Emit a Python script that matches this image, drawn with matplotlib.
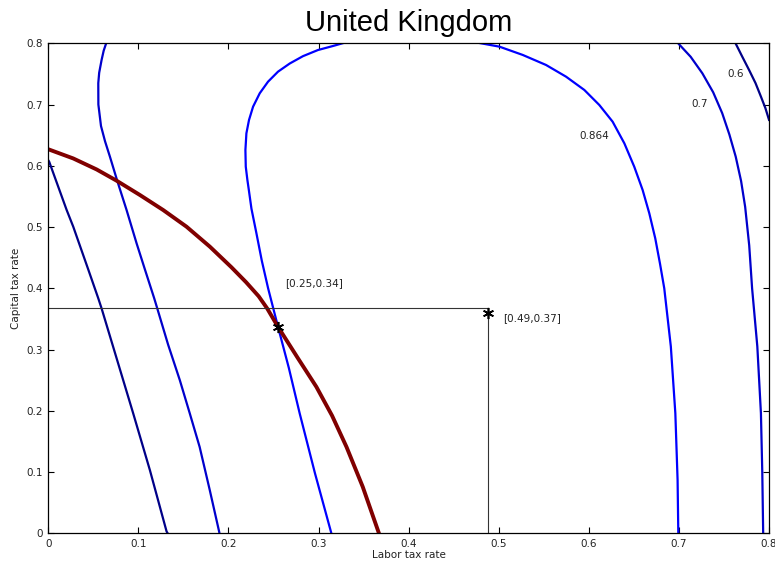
import numpy as np
import matplotlib.pyplot as plt

plt.rcParams['font.family'] = ['DejaVu Sans']

# contour level 0.6 (left branch and top-right corner)
c06_x = [0.0, 0.001, 0.0204, 0.0277, 0.0443, 0.0554, 0.0592, 0.0942, 0.1128,
         0.1313, 0.1325]
c06_y = [0.609, 0.6067, 0.5278, 0.5006, 0.431, 0.384, 0.367, 0.196, 0.103,
         0.003, 0.0]
c06b_x = [0.7625, 0.770, 0.778, 0.785, 0.791, 0.796, 0.800]
c06b_y = [0.801, 0.779, 0.756, 0.735, 0.713, 0.694, 0.675]

# contour level 0.7
c07_x = [0.0647, 0.0615, 0.0592, 0.0565, 0.0555, 0.0556, 0.0585, 0.0630,
         0.0684, 0.0765, 0.0869, 0.098, 0.1072, 0.1175, 0.121, 0.133, 0.146,
         0.157, 0.168, 0.179, 0.1896, 0.190]
c07_y = [0.802, 0.788, 0.773, 0.752, 0.735, 0.70, 0.665, 0.640, 0.615,
         0.5757, 0.5278, 0.4735, 0.431, 0.384, 0.367, 0.308, 0.250, 0.196,
         0.141, 0.072, 0.003, 0.0]
c07b_x = [0.6985, 0.713, 0.726, 0.738, 0.748, 0.756, 0.763, 0.769, 0.7735,
          0.778, 0.7812, 0.787, 0.791, 0.7925, 0.7935]
c07b_y = [0.801, 0.778, 0.751, 0.72, 0.686, 0.651, 0.615, 0.575, 0.533,
          0.47, 0.400, 0.305, 0.196, 0.10, 0.0]

# contour level 0.864
c086_x = [0.3142, 0.296, 0.279, 0.267, 0.255, 0.244, 0.237, 0.231, 0.2255,
          0.2225, 0.221, 0.2192, 0.2188, 0.2199, 0.2228, 0.2273, 0.2347,
          0.2439, 0.255, 0.268, 0.2827, 0.2993, 0.316, 0.3289]
c086_y = [0.0, 0.098, 0.196, 0.27, 0.337, 0.400, 0.445, 0.490, 0.530,
          0.5616, 0.5768, 0.5985, 0.6258, 0.653, 0.6748, 0.6965, 0.7184,
          0.7373, 0.7537, 0.767, 0.779, 0.789, 0.7956, 0.801]
c086b_x = [0.4767, 0.5008, 0.5266, 0.5525, 0.5747, 0.595, 0.6116, 0.6264,
           0.6394, 0.6504, 0.6597, 0.6671, 0.6737, 0.6790, 0.6837, 0.691,
           0.696, 0.6985, 0.6993]
c086b_y = [0.801, 0.7945, 0.781, 0.7646, 0.7455, 0.7238, 0.6993, 0.672,
           0.6367, 0.5985, 0.5605, 0.5224, 0.4816, 0.44, 0.400, 0.305,
           0.196, 0.087, 0.0]

# constraint curve
red_x = [0.0, 0.0277, 0.0537, 0.0758, 0.1017, 0.1275, 0.1534, 0.1793,
         0.2033, 0.2195, 0.2335, 0.243, 0.255, 0.277, 0.2976, 0.315, 0.331,
         0.349, 0.367]
red_y = [0.627, 0.612, 0.594, 0.5757, 0.5523, 0.5278, 0.5006, 0.468,
         0.4343, 0.410, 0.387, 0.367, 0.337, 0.286, 0.239, 0.192, 0.141,
         0.076, 0.0]

opt_pt = (0.255, 0.337)
cur_pt = (0.488, 0.36)
cur_line = (0.488, 0.367)

fig = plt.figure(figsize=(7.75, 5.69), dpi=100)
ax = fig.add_axes([0.0623, 0.0628, 0.9300, 0.8611])

col06 = '#000088'
col07 = '#0000CC'
col086 = '#0000FF'
lw = 1.6
ax.plot(c06_x, c06_y, color=col06, lw=lw)
ax.plot(c06b_x, c06b_y, color=col06, lw=lw)
ax.plot(c07_x, c07_y, color=col07, lw=lw)
ax.plot(c07b_x, c07b_y, color=col07, lw=lw)
ax.plot(c086_x, c086_y, color=col086, lw=lw)
ax.plot(c086b_x, c086b_y, color=col086, lw=lw)
ax.plot(red_x, red_y, color='#800000', lw=2.8)

ax.plot([0, cur_line[0]], [cur_line[1], cur_line[1]], color='#333333', lw=0.8)
ax.plot([cur_line[0], cur_line[0]], [0, cur_line[1]], color='#333333', lw=0.8)

ax.plot(*opt_pt, marker=(6, 2, 0), color='black', ms=8, mew=1.2)
ax.plot(*cur_pt, marker=(6, 2, 0), color='black', ms=8, mew=1.2)

fs = 7.5
ax.text(0.2626, 0.4077, '[0.25,0.34]', fontsize=fs, va='center', color='#222222')
ax.text(0.505, 0.351, '[0.49,0.37]', fontsize=fs, va='center', color='#222222')
ax.text(0.606, 0.649, '0.864', fontsize=fs, ha='center', va='center', color='#222222')
ax.text(0.7225, 0.7015, '0.7', fontsize=fs, ha='center', va='center', color='#222222')
ax.text(0.763, 0.7506, '0.6', fontsize=fs, ha='center', va='center', color='#222222')

ax.set_xlim(0, 0.8)
ax.set_ylim(0, 0.8)
ticks = np.arange(0, 0.81, 0.1)
labels = ['0', '0.1', '0.2', '0.3', '0.4', '0.5', '0.6', '0.7', '0.8']
ax.set_xticks(ticks)
ax.set_xticklabels(labels)
ax.set_yticks(ticks)
ax.set_yticklabels(labels)
ax.tick_params(direction='in', top=True, right=True, length=4, width=0.8,
               labelsize=fs, pad=4, labelcolor='#222222')
for s in ax.spines.values():
    s.set_linewidth(0.9)

ax.set_xlabel('Labor tax rate', fontsize=fs, labelpad=1, color='#222222')
ax.set_ylabel('Capital tax rate', fontsize=fs, labelpad=4, color='#222222')
ax.set_title('United Kingdom', fontsize=21, pad=9, family='Liberation Sans')

fig.savefig('out.png', dpi=100)
